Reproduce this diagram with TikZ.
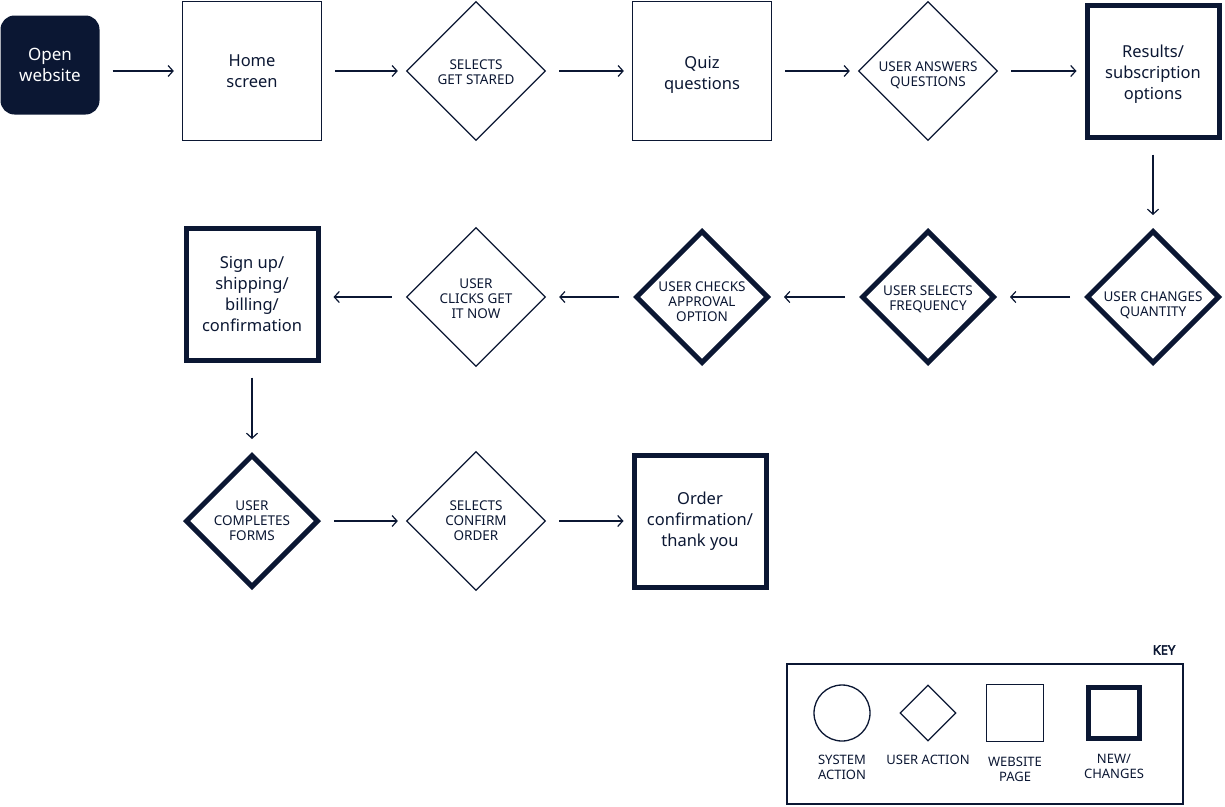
\documentclass[tikz,border=0pt]{standalone}
\usepackage{fontspec}
\setmainfont{Noto Sans}
\newfontfamily\keyfont{Noto Sans}[FakeBold=3]
\usetikzlibrary{shapes.geometric,arrows.meta}
\definecolor{navy}{HTML}{0B1733}
% strut that lowers a node's text by half of #1
\newcommand\dn[1]{\rule{0pt}{\dimexpr\fontcharht\font`l+#1\relax}}
\begin{document}
\begin{tikzpicture}[x=1pt,y=-1pt,
  page/.style={rectangle,draw=navy,line width=1.3pt,minimum size=139pt,inner sep=0pt,align=center,font=\fontsize{16.5}{21}\selectfont,text=navy},
  newpage/.style={page,line width=5pt,minimum size=132pt},
  act/.style={diamond,draw=navy,line width=1.3pt,minimum size=139pt,inner sep=-20pt,align=center,font=\fontsize{13.5}{15}\selectfont,text=navy},
  newact/.style={act,line width=5pt,minimum size=133pt},
  start/.style={rectangle,fill=navy,rounded corners=14pt,minimum size=99pt,inner sep=0pt,align=center,font=\fontsize{17}{21}\selectfont,text=white},
  flow/.style={-{Straight Barb[length=5pt,width=11pt]},draw=navy,line width=1.2pt},
  fwd/.style={flow,shorten <=13pt,shorten >=8pt},
  back/.style={flow,shorten <=14pt,shorten >=13pt},
  down/.style={flow,shorten <=15pt,shorten >=13pt},
  keylabel/.style={align=center,font=\fontsize{13}{15}\selectfont,text=navy,inner sep=0pt}]
\useasboundingbox (0,0) rectangle (1225,806);

% row 1
\node[start] (open) at (50,65) {Open\\website};
\node[page] (home) at (252,71) {Home\\screen};
\node[act] (getstarted) at (476,71) {\dn{1pt}SELECTS\\GET STARED};
\node[page] (quiz) at (702,71) {\dn{8pt}Quiz\\questions};
\node[act] (answers) at (928,71) {\dn{8pt}USER ANSWERS\\QUESTIONS};
\node[newpage] (results) at (1153,71) {\dn{6pt}Results/\\subscription\\options};

% row 2
\node[newact] (quantity) at (1153,297) {\dn{16pt}USER CHANGES\\QUANTITY};
\node[newact] (frequency) at (928,297) {\dn{4pt}USER SELECTS\\FREQUENCY};
\node[newact] (approval) at (702,297) {\dn{9pt}USER CHECKS\\APPROVAL\\OPTION};
\node[act] (getitnow) at (476,297) {\dn{2pt}USER\\CLICKS GET\\IT NOW};
\node[newpage] (signup) at (252,294) {Sign up/\\shipping/\\billing/\\confirmation};

% row 3
\node[newact] (forms) at (252,521) {USER\\COMPLETES\\FORMS};
\node[act] (confirm) at (476,521) {SELECTS\\CONFIRM\\ORDER};
\node[newpage] (order) at (700,521) {Order\\confirmation/\\thank you};

% connectors
\draw[fwd] (open.east |- home.west) -- (home.west);
\draw[fwd] (home.east) -- (getstarted.west);
\draw[fwd] (getstarted.east) -- (quiz.west);
\draw[fwd] (quiz.east) -- (answers.west);
\draw[fwd] (answers.east) -- (results.west);
\draw[down] (results.south) -- (quantity.north);
\draw[back] (quantity.west) -- (frequency.east);
\draw[back] (frequency.west) -- (approval.east);
\draw[back] (approval.west) -- (getitnow.east);
\draw[back] (getitnow.west) -- (signup.east |- getitnow.west);
\draw[down] (signup.south) -- (forms.north);
\draw[fwd] (forms.east) -- (confirm.west);
\draw[fwd] (confirm.east) -- (order.west);

% key
\node[rectangle,draw=navy,line width=1.3pt,minimum width=396pt,minimum height=140pt,inner sep=0pt] (keybox) at (985,734) {};
\node[font=\keyfont\fontsize{13}{15}\selectfont,text=navy,inner sep=0pt] (keytitle) at (1164,650) {KEY};
\node[circle,draw=navy,line width=1.3pt,minimum size=56pt,inner sep=0pt] (ksys) at (842,713) {};
\node[diamond,draw=navy,line width=1.3pt,minimum size=56pt,inner sep=0pt] (kuser) at (928,713) {};
\node[rectangle,draw=navy,line width=1.3pt,minimum size=57pt,inner sep=0pt] (kweb) at (1015,713) {};
\node[rectangle,draw=navy,line width=5pt,minimum size=51pt,inner sep=0pt] (knew) at (1114,713) {};
\node[keylabel] (lsys) at (842,767) {SYSTEM\\ACTION};
\node[keylabel] (luser) at (928,760) {USER ACTION};
\node[keylabel] (lweb) at (1015,769) {WEBSITE\\PAGE};
\node[keylabel] (lnew) at (1114,766) {NEW/\\CHANGES};
\end{tikzpicture}
\end{document}
